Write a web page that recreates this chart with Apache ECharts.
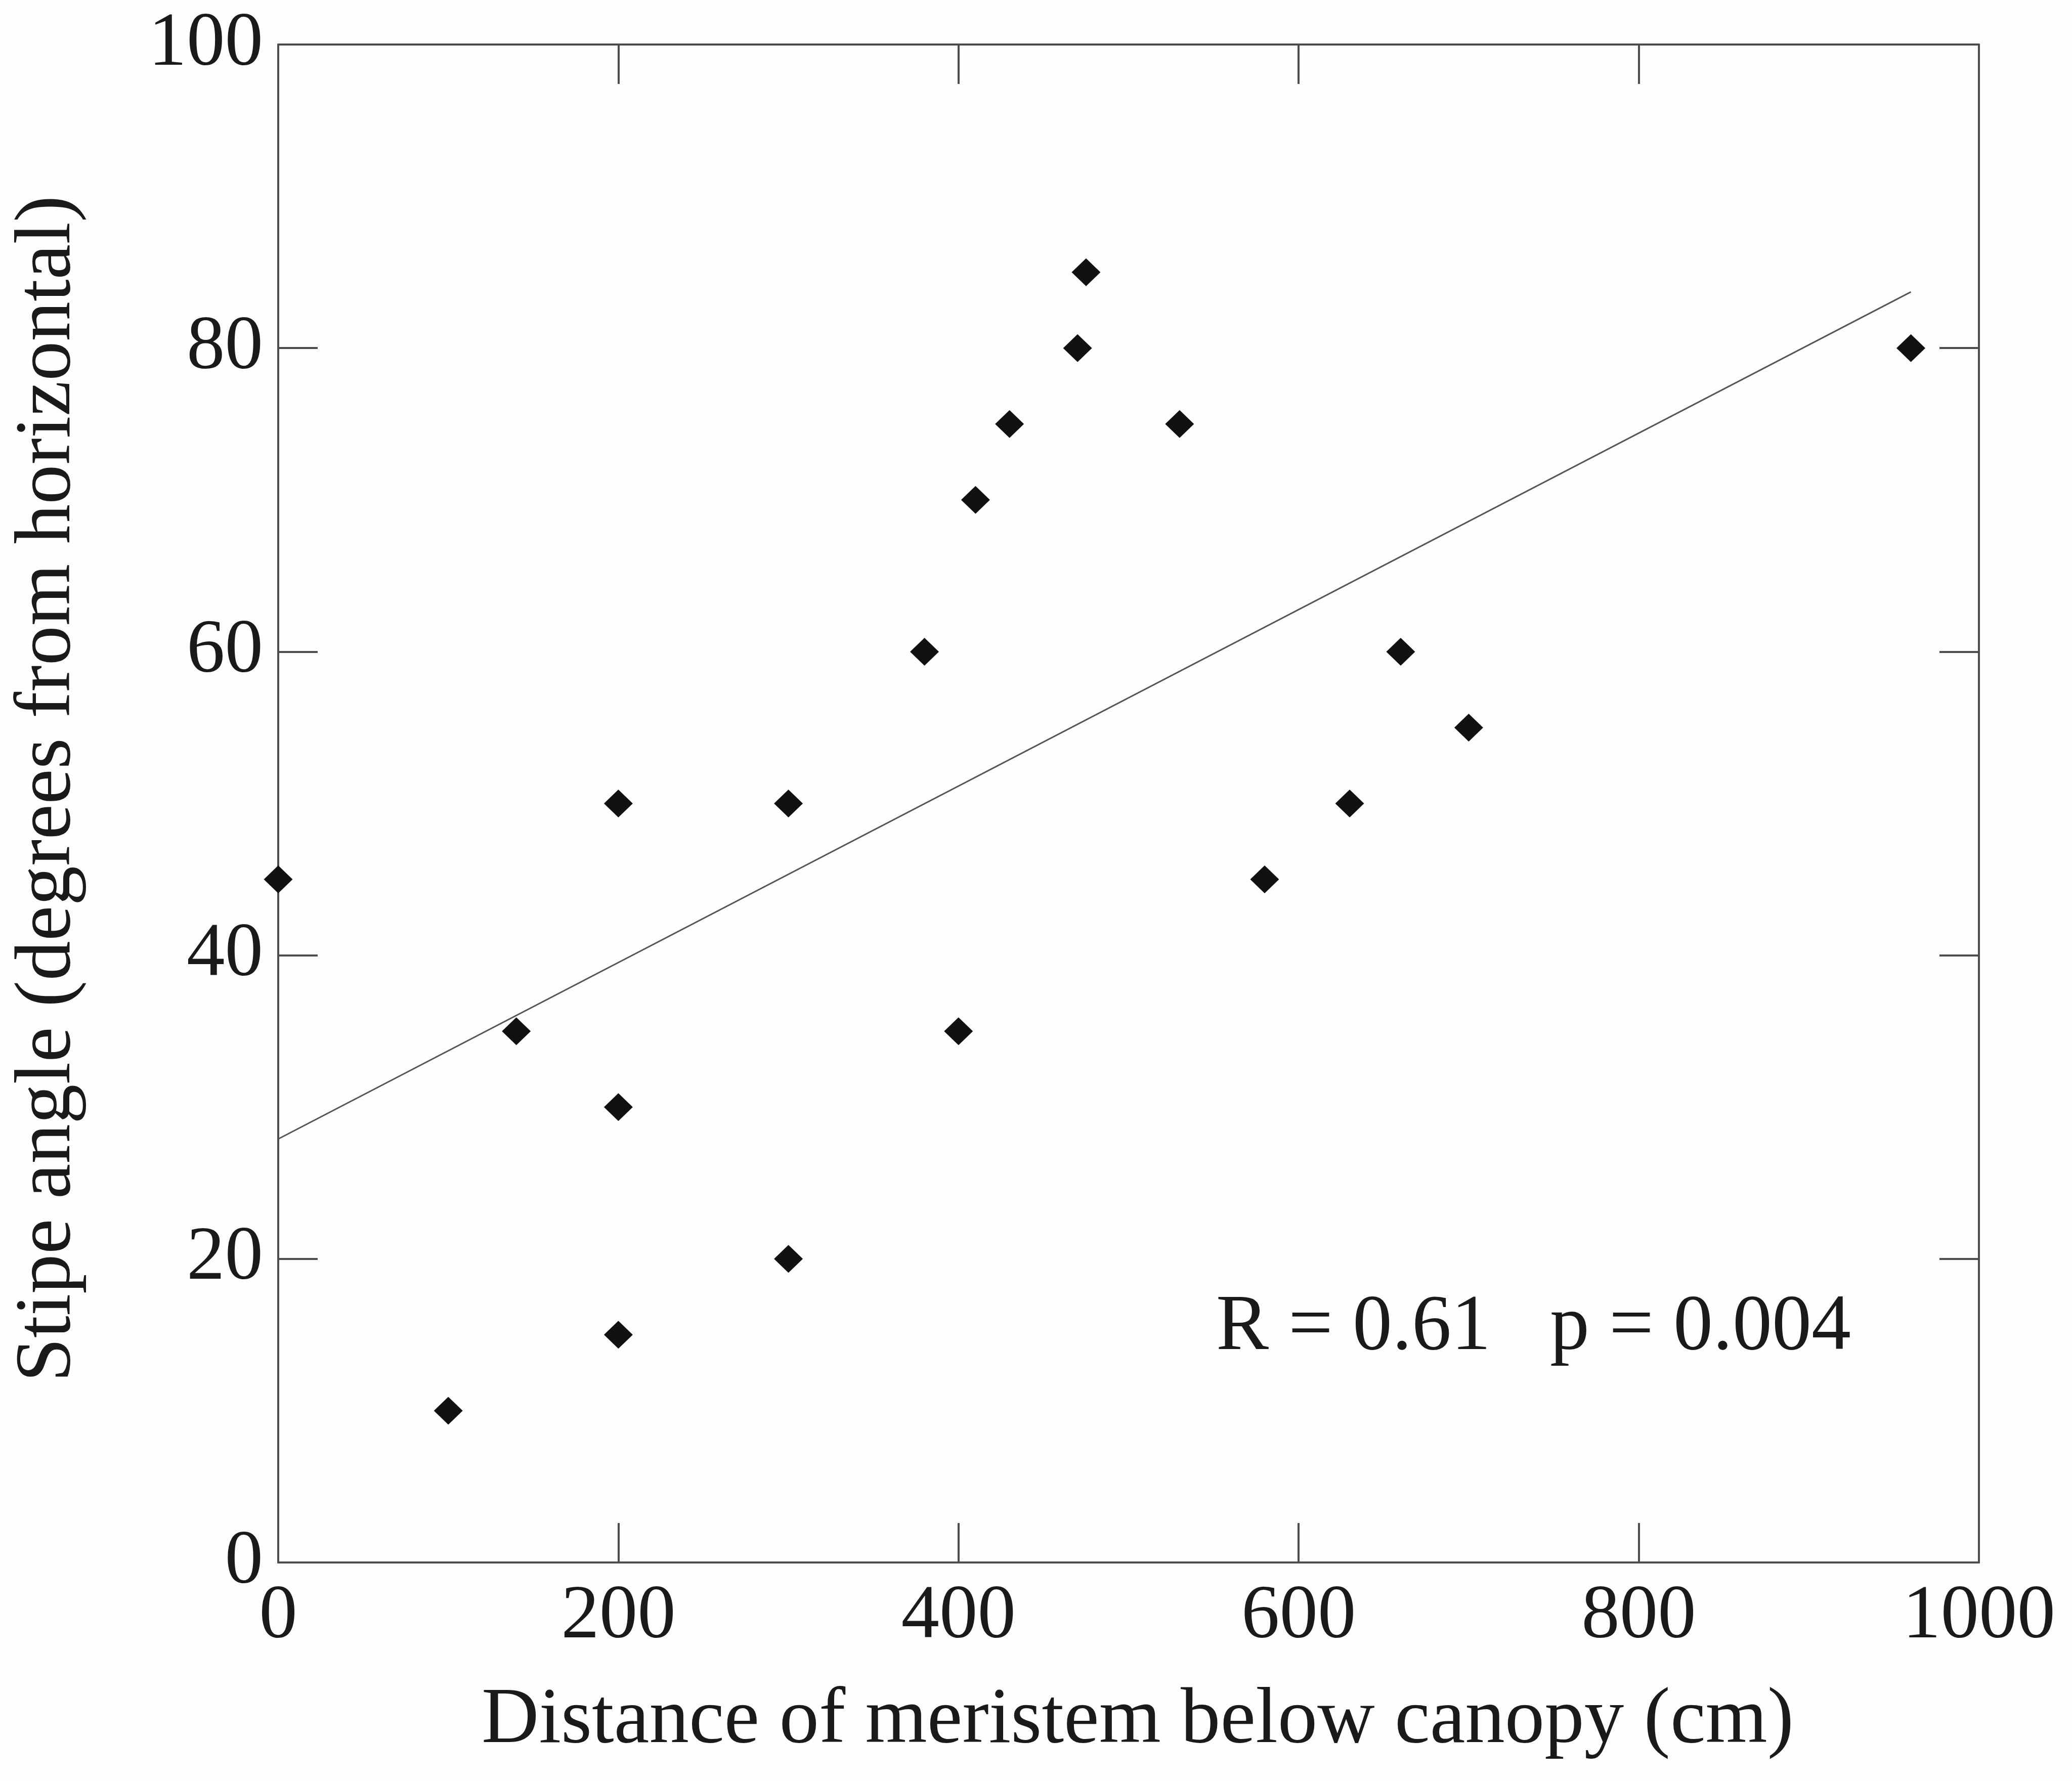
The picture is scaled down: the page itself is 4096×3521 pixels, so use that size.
<!DOCTYPE html>
<html>
<head>
<meta charset="utf-8">
<title>Stipe angle vs distance below canopy</title>
<script src="https://cdn.jsdelivr.net/npm/echarts@6/dist/echarts.min.js"></script>
<style>
	html, body { margin: 0; padding: 0; background: #fefefc; }
	#main { width: 4096px; height: 3521px; }
</style>
</head>
<body>
<div id="main"></div>
<script>
	// distance of meristem below canopy (cm) and stipe angle (deg)
	var distance = [0, 100, 140, 200, 200, 200, 300, 300, 380, 400, 410, 430, 470, 475, 530, 580, 630, 660, 700, 960];
	var angle = [45, 10, 35, 50, 30, 15, 50, 20, 60, 35, 70, 75, 80, 85, 75, 45, 50, 60, 55, 80];

	// end points of the fitted line as drawn
	var fitX = [0, 960];
	var fitY = [27.9, 83.7];

	var xTicks = [0, 200, 400, 600, 800, 1000];
	var yTicks = [0, 20, 40, 60, 80, 100];
	var statText = 'R = 0.61   p = 0.004';

	var font = '"Liberation Serif", "Times New Roman", serif';
	var lineColor = '#4d4d4d';
	var textColor = '#1a1a1a';

	var points = distance.map(function (d, i) {
		return [d, angle[i]];
	});
	var fitLine = fitX.map(function (d, i) {
		return [d, fitY[i]];
	});

	// plain numbers, no thousands separator (1000 not 1,000)
	function plain(v) {
		return String(v);
	}

	function axisBase(min, max, step) {
		return {
			type: 'value',
			min: min,
			max: max,
			interval: step,
			axisLine: { show: true, onZero: false, lineStyle: { color: lineColor, width: 4 } },
			axisTick: { show: true, inside: true, length: 78, lineStyle: { color: lineColor, width: 4 } },
			splitLine: { show: false }
		};
	}

	var xBottom = axisBase(xTicks[0], xTicks[xTicks.length - 1], xTicks[1] - xTicks[0]);
	xBottom.position = 'bottom';
	xBottom.name = 'Distance of meristem below canopy (cm)';
	xBottom.nameLocation = 'middle';
	xBottom.nameGap = 235;
	xBottom.nameTextStyle = { fontFamily: font, fontSize: 157, color: textColor, padding: [0, 0, 0, 36] };
	xBottom.axisLabel = { show: true, margin: 33, fontFamily: font, fontSize: 151, color: textColor, formatter: plain, showMinLabel: true, showMaxLabel: true };

	var xTop = axisBase(xTicks[0], xTicks[xTicks.length - 1], xTicks[1] - xTicks[0]);
	xTop.position = 'top';
	xTop.axisLabel = { show: false };

	var yLeft = axisBase(yTicks[0], yTicks[yTicks.length - 1], yTicks[1] - yTicks[0]);
	yLeft.position = 'left';
	yLeft.name = 'Stipe angle (degrees from horizontal)';
	yLeft.nameLocation = 'middle';
	yLeft.nameGap = 376;
	yLeft.nameTextStyle = { fontFamily: font, fontSize: 157, color: textColor, padding: [0, 0, 0, 58] };
	yLeft.axisLabel = { show: true, margin: 30, fontFamily: font, fontSize: 151, color: textColor, formatter: plain, padding: [26, 0, 0, 0], showMinLabel: true, showMaxLabel: true };

	var yRight = axisBase(yTicks[0], yTicks[yTicks.length - 1], yTicks[1] - yTicks[0]);
	yRight.position = 'right';
	yRight.axisLabel = { show: false };

	var myChart = echarts.init(document.getElementById('main'), null, { renderer: 'canvas' });

	var option = {
		backgroundColor: '#fefefc',
		animation: false,
		grid: { left: 550, right: 184, top: 88, bottom: 432, containLabel: false },
		xAxis: [xBottom, xTop],
		yAxis: [yLeft, yRight],
		series: [
			{
				name: 'fit',
				type: 'line',
				xAxisIndex: 0,
				yAxisIndex: 0,
				data: fitLine,
				showSymbol: false,
				symbol: 'none',
				z: 1,
				lineStyle: { color: '#555555', width: 3 }
			},
			{
				name: 'stipe angle',
				type: 'scatter',
				xAxisIndex: 0,
				yAxisIndex: 0,
				data: points,
				symbol: 'diamond',
				symbolSize: [57, 55],
				z: 3,
				itemStyle: { color: '#111111', opacity: 1 }
			}
		],
		graphic: [
			{
				type: 'text',
				left: 2404,
				top: 2548,
				style: {
					text: statText,
					fontFamily: font,
					fontSize: 156,
					fill: textColor
				}
			}
		]
	};

	myChart.setOption(option);
</script>
</body>
</html>
